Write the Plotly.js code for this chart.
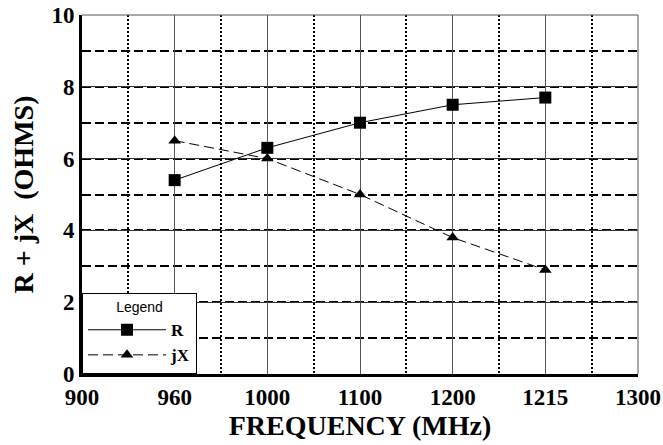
<!DOCTYPE html>
<html>
<head>
<meta charset="utf-8">
<script src="https://cdn.plot.ly/plotly-3.0.1.min.js"></script>
<style>html,body{margin:0;padding:0;background:#fff;}#chart{width:663px;height:445px;}</style>
</head>
<body>
<div id="chart"></div>
<script>
const frequencies = ['900', '960', '1000', '1100', '1200', '1215', '1300'];
const pointFrequencies = ['960', '1000', '1100', '1200', '1215'];
const resistance = [5.4, 6.3, 7.0, 7.5, 7.7];
const reactance = [6.5, 6.0, 5.0, 3.8, 2.9];
const yTicks = [0, 2, 4, 6, 8, 10];

const idx = pointFrequencies.map(f => frequencies.indexOf(f));
const serif = '"Liberation Serif", "DejaVu Serif", serif';
const sans = '"Liberation Sans", Arial, sans-serif';

const traces = [
  {
    x: idx, y: resistance, name: '<b>R</b>', mode: 'lines+markers',
    line: {color: 'black', width: 1},
    marker: {symbol: 'square', size: 12, color: 'black'}
  },
  {
    x: idx, y: reactance, name: '<b>jX</b>', mode: 'lines+markers',
    line: {color: 'black', width: 1, dash: '10px,5px'},
    marker: {symbol: 'triangle-up', size: 11, color: 'black'}
  }
];

const layout = {
  width: 663, height: 445,
  margin: {l: 82, r: 25, t: 15, b: 71},
  paper_bgcolor: 'white', plot_bgcolor: 'white',
  showlegend: true,
  legend: {
    x: 0, y: 0, xanchor: 'left', yanchor: 'bottom',
    bgcolor: 'white', bordercolor: 'black', borderwidth: 1,
    font: {family: serif, size: 17, color: 'black'},
    title: {text: 'Legend', side: 'top center', font: {family: sans, size: 14, color: 'black'}},
    itemwidth: 78,
    tracegroupgap: 0
  },
  xaxis: {
    range: [0, 6],
    tickmode: 'array',
    tickvals: frequencies.map((f, i) => i),
    ticktext: frequencies.map(f => '<b>' + f + '</b>'),
    ticks: '',
    tickfont: {family: serif, size: 23, color: 'black'},
    showgrid: true, gridcolor: '#555', gridwidth: 1,
    zeroline: false,
    showline: true, linecolor: 'black', linewidth: 3,
    minor: {tick0: 0.5, dtick: 1, showgrid: true, gridcolor: 'black', gridwidth: 2, griddash: '2px,2px', ticks: ''},
    title: {text: '<b>FREQUENCY (MHz)</b>', font: {family: serif, size: 28, color: 'black'}, standoff: 6},
    fixedrange: true
  },
  yaxis: {
    range: [0, 10],
    tickmode: 'array',
    tickvals: yTicks,
    ticktext: yTicks.map(v => '<b>' + v + '</b>'),
    ticks: '',
    tickfont: {family: serif, size: 23, color: 'black'},
    showgrid: true, gridcolor: '#333', gridwidth: 1,
    zeroline: false,
    showline: true, linecolor: 'black', linewidth: 3,
    minor: {tick0: 0, dtick: 1, showgrid: true, gridcolor: 'black', gridwidth: 2, griddash: '9px,4px', ticks: ''},
    title: {text: '<b>R + jX  (OHMS)</b>', font: {family: serif, size: 28, color: 'black'}, standoff: 10},
    fixedrange: true
  },
  shapes: [
    {type: 'line', xref: 'paper', yref: 'paper', x0: 0, x1: 1, y0: 1, y1: 1, line: {color: '#555', width: 1}},
    {type: 'line', xref: 'paper', yref: 'paper', x0: 1, x1: 1, y0: 0, y1: 1, line: {color: '#555', width: 1}}
  ]
};

Plotly.newPlot('chart', traces, layout, {displayModeBar: false, staticPlot: true});
</script>
</body>
</html>
